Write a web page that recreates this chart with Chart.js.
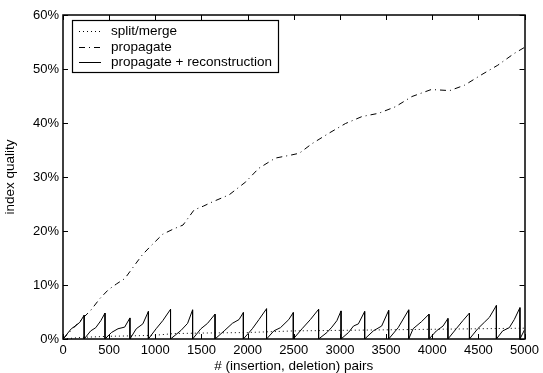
<!DOCTYPE html>
<html>
<head>
<meta charset="utf-8">
<script src="https://cdn.jsdelivr.net/npm/chart.js@4/dist/chart.umd.min.js"></script>
<style>
  html, body { margin: 0; padding: 0; background: #fff; }
  canvas { display: block; }
</style>
</head>
<body>
<canvas id="quality" width="543" height="373"></canvas>
<script>
// x ticks (pairs) and y ticks (%)
const xTicks = [0, 500, 1000, 1500, 2000, 2500, 3000, 3500, 4000, 4500, 5000];
const yTicks = [0, 10, 20, 30, 40, 50, 60];

const seriesNames = ["split/merge", "propagate", "propagate + reconstruction"];

// split/merge
const splitX = [0, 200, 500, 800, 1000, 1200, 1500, 2000, 2500, 3000, 3500, 4000, 4500, 5000];
const splitY = [0, 0.3, 0.5, 0.6, 0.7, 1.0, 1.1, 1.2, 1.5, 1.6, 1.7, 1.8, 1.9, 2.0];

// propagate
const propX = [0, 100, 200, 300, 400, 490, 580, 670, 790, 860, 950, 1080, 1200, 1300, 1420,
  1520, 1620, 1800, 1980, 2120, 2300, 2480, 2560, 2700, 2880, 3060, 3240, 3420, 3600, 3780,
  3990, 4190, 4350, 4530, 4710, 4890, 5000];
const propY = [0, 1.8, 3.6, 5.3, 7.5, 9.1, 10.2, 11.2, 14.0, 15.6, 17.2, 19.4, 20.4, 21.1, 23.9,
  24.6, 25.4, 26.7, 29.1, 31.6, 33.5, 34.1, 34.4, 36.2, 38.1, 39.9, 41.2, 41.8, 43.0, 44.9,
  46.2, 46.0, 47.0, 48.9, 50.7, 52.9, 54.0];

// propagate + reconstruction (drops back to 0 after each rebuild)
const reconX = [
  0, 90, 140, 183, 229, 229,
  300, 355, 410, 455, 455,
  525, 596, 668, 725, 725,
  794, 865, 925, 925,
  1009, 1081, 1165, 1165,
  1279, 1350, 1404, 1404,
  1494, 1566, 1647, 1647,
  1746, 1835, 1907, 1954, 1954,
  2051, 2123, 2205, 2205,
  2284, 2356, 2446, 2495, 2495,
  2590, 2680, 2769, 2769,
  2859, 2913, 2967, 3012, 3012,
  3093, 3147, 3200, 3268, 3268,
  3362, 3452, 3528, 3528,
  3631, 3745, 3745,
  3793, 3883, 3965, 3965,
  4045, 4117, 4170, 4170,
  4260, 4332, 4403, 4403,
  4493, 4565, 4619, 4695, 4695,
  4763, 4835, 4889, 4950, 4950,
  5000];
const reconY = [
  0, 1.9, 2.5, 3.1, 4.4, 0,
  1.5, 2.1, 3.4, 4.8, 0,
  1.2, 1.9, 2.2, 3.9, 0,
  1.9, 2.8, 5.1, 0,
  1.9, 3.4, 5.5, 0,
  1.6, 2.9, 5.4, 0,
  1.9, 2.9, 4.6, 0,
  1.5, 2.9, 3.6, 4.9, 0,
  1.9, 3.6, 5.6, 0,
  1.5, 2.1, 3.6, 4.9, 0,
  1.9, 3.6, 5.5, 0,
  1.2, 2.2, 3.4, 5.2, 0,
  1.2, 2.4, 2.8, 5.1, 0,
  1.5, 2.4, 5.3, 0,
  2.1, 5.4, 0,
  1.9, 3.2, 4.6, 0,
  1.5, 2.4, 3.8, 0,
  1.9, 3.4, 4.8, 0,
  1.9, 3.1, 4.0, 6.2, 0,
  1.5, 2.1, 3.6, 5.8, 0,
  1.7];

const pts = (xs, ys) => xs.map((x, i) => ({ x: x, y: ys[i] }));
const FONT = "Arial, 'Liberation Sans', Helvetica, sans-serif";
const TEXT_SIZE = 13.5;

// box around the axes, inward ticks on all four sides, boxed legend
const frame = {
  id: "frame",
  afterDatasetsDraw(chart) {
    const { ctx, chartArea: a, scales } = chart;
    const tl = 5;
    ctx.save();
    ctx.strokeStyle = "#000";
    ctx.lineWidth = 1;
    ctx.setLineDash([]);
    ctx.beginPath();
    scales.x.ticks.forEach((t) => {
      const px = Math.round(scales.x.getPixelForValue(t.value)) + 0.5;
      ctx.moveTo(px, a.bottom); ctx.lineTo(px, a.bottom - tl);
      ctx.moveTo(px, a.top); ctx.lineTo(px, a.top + tl);
    });
    scales.y.ticks.forEach((t) => {
      const py = Math.round(scales.y.getPixelForValue(t.value)) + 0.5;
      ctx.moveTo(a.left, py); ctx.lineTo(a.left + tl, py);
      ctx.moveTo(a.right, py); ctx.lineTo(a.right - tl, py);
    });
    ctx.stroke();
    ctx.lineWidth = 1.5;
    ctx.strokeRect(Math.round(a.left), Math.round(a.top),
      Math.round(a.right - a.left), Math.round(a.bottom - a.top));

    // legend
    const lx = a.left + 9, ly = a.top + 5, lw = 206, lh = 52;
    ctx.fillStyle = "#fff";
    ctx.fillRect(lx, ly, lw, lh);
    ctx.lineWidth = 1.2;
    ctx.strokeRect(lx + 0.5, ly + 0.5, lw, lh);
    ctx.font = TEXT_SIZE + "px " + FONT;
    ctx.textBaseline = "middle";
    chart.data.datasets.forEach((ds, i) => {
      const ry = Math.round(ly + 11 + i * 15.5) + 0.5;
      ctx.strokeStyle = ds.borderColor;
      ctx.lineWidth = 1;
      ctx.setLineDash(ds.borderDash || []);
      ctx.beginPath();
      ctx.moveTo(lx + 7, ry);
      ctx.lineTo(lx + 29, ry);
      ctx.stroke();
      ctx.setLineDash([]);
      ctx.fillStyle = "#000";
      ctx.fillText(ds.label, lx + 39, ry);
    });
    ctx.restore();
  },
};

new Chart(document.getElementById("quality"), {
  type: "line",
  data: {
    datasets: [
      {
        label: seriesNames[0],
        data: pts(splitX, splitY),
        borderColor: "#000",
        borderDash: [1, 3],
        borderWidth: 1,
      },
      {
        label: seriesNames[1],
        data: pts(propX, propY),
        borderColor: "#000",
        borderDash: [6, 4, 1, 4],
        borderWidth: 1,
      },
      {
        label: seriesNames[2],
        data: pts(reconX, reconY),
        borderColor: "#000",
        borderWidth: 1,
      },
    ],
  },
  options: {
    responsive: false,
    animation: false,
    devicePixelRatio: 1,
    parsing: false,
    layout: { padding: { top: 15, right: 16, left: 0, bottom: 0 } },
    elements: { point: { radius: 0 }, line: { tension: 0 } },
    plugins: { legend: { display: false }, tooltip: { enabled: false } },
    scales: {
      x: {
        type: "linear",
        min: 0,
        max: 5000,
        afterBuildTicks: (s) => { s.ticks = xTicks.map((v) => ({ value: v })); },
        afterFit: (s) => { s.height = 34; },
        grid: { display: false, drawTicks: false },
        border: { display: false },
        ticks: {
          color: "#000",
          padding: 4,
          font: { family: FONT, size: 13 },
          callback: (v) => String(v),
        },
        title: {
          display: true,
          text: "# (insertion, deletion) pairs",
          color: "#000",
          font: { family: FONT, size: TEXT_SIZE },
          padding: { top: 0, bottom: -1 },
        },
      },
      y: {
        min: 0,
        max: 60,
        afterBuildTicks: (s) => { s.ticks = yTicks.map((v) => ({ value: v })); },
        afterFit: (s) => { s.width = 63; },
        grid: { display: false, drawTicks: false },
        border: { display: false },
        ticks: {
          color: "#000",
          padding: 4,
          font: { family: FONT, size: 13 },
          callback: (v) => v + "%",
        },
        title: {
          display: true,
          text: "index quality",
          color: "#000",
          font: { family: FONT, size: TEXT_SIZE },
          padding: { top: 2, bottom: 0 },
        },
      },
    },
  },
  plugins: [frame],
});
</script>
</body>
</html>
